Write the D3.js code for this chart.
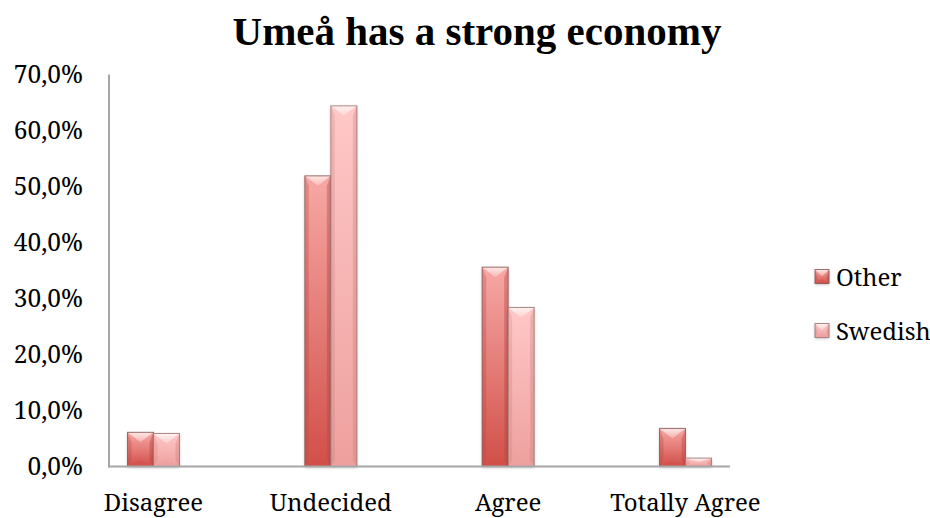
<!DOCTYPE html>
<html>
<head>
<meta charset="utf-8">
<script src="https://cdn.jsdelivr.net/npm/d3@7/dist/d3.min.js"></script>
<style>
  html, body { margin: 0; padding: 0; background: #ffffff; }
  svg { display: block; }
  text { fill: #000; }
  .title { font-family: "Liberation Serif", "Times New Roman", serif; }
  .lbl { font-family: "Noto Serif", "DejaVu Serif", serif; }
</style>
</head>
<body>
<svg id="chart" width="930" height="518"></svg>
<script>
// Survey answers, share of respondents per group
const categories = ["Disagree", "Undecided", "Agree", "Totally Agree"];
const seriesNames = ["Other", "Swedish"];
const otherValues = [6.1, 51.9, 35.6, 6.8];
const swedishValues = [5.9, 64.4, 28.4, 1.5];
const yTicks = [0, 10, 20, 30, 40, 50, 60, 70];
const titleText = "Umeå has a strong economy";

const svg = d3.select("#chart");

const plot = { left: 109, right: 730, top: 74.5, bottom: 466.5 };

const y = d3.scaleLinear().domain([0, 70]).range([plot.bottom, plot.top]);
const x = d3.scalePoint().domain(categories).range([153.5, 685.5]);
const barW = 26;
const xs = d3.scaleBand().domain(seriesNames).range([-barW, barW]).padding(0);

const palettes = {
  Other:   { top: "#f7a8a5", bottom: "#d24f49", stroke: "#8a5553", side: "#c04f4a", hi: "#ffe6e4" },
  Swedish: { top: "#ffc8c7", bottom: "#eda09e", stroke: "#9c706e", side: "#d98f8d", hi: "#fff2f1" }
};

const defs = svg.append("defs");
seriesNames.forEach(s => {
  const p = palettes[s];
  const g = defs.append("linearGradient").attr("id", "grad-" + s)
    .attr("x1", 0).attr("y1", 0).attr("x2", 0).attr("y2", 1);
  g.append("stop").attr("offset", "0%").attr("stop-color", p.top);
  g.append("stop").attr("offset", "100%").attr("stop-color", p.bottom);
  const gs = defs.append("linearGradient").attr("id", "side-" + s)
    .attr("x1", 0).attr("y1", 0).attr("x2", 0).attr("y2", 1);
  gs.append("stop").attr("offset", "0%").attr("stop-color", p.side).attr("stop-opacity", 0.55);
  gs.append("stop").attr("offset", "100%").attr("stop-color", p.side).attr("stop-opacity", 0.9);
  const gh = defs.append("linearGradient").attr("id", "hi-" + s)
    .attr("x1", 0).attr("y1", 0).attr("x2", 0).attr("y2", 1);
  gh.append("stop").attr("offset", "0%").attr("stop-color", p.hi).attr("stop-opacity", 1);
  gh.append("stop").attr("offset", "100%").attr("stop-color", p.hi).attr("stop-opacity", 0.3);
});
const shadow = defs.append("filter").attr("id", "shadow")
  .attr("x", "-30%").attr("y", "-10%").attr("width", "160%").attr("height", "130%");
shadow.append("feDropShadow").attr("dx", 0).attr("dy", 1).attr("stdDeviation", 1.5)
  .attr("flood-color", "#000").attr("flood-opacity", 0.28);

// Title
svg.append("text")
  .attr("class", "title")
  .attr("x", 477).attr("y", 45)
  .attr("text-anchor", "middle")
  .style("font-size", "41px").style("font-weight", "bold")
  .text(titleText);

// Y axis tick labels
svg.append("g").selectAll("text").data(yTicks).join("text")
  .attr("class", "lbl")
  .attr("x", 83)
  .attr("y", d => y(d))
  .attr("dy", "0.36em")
  .attr("text-anchor", "end")
  .style("font-size", "24.5px")
  .text(d => d3.format(".1f")(d).replace(".", ",") + "%");

// Bevelled column
function bevelBar(g, x0, y0, w, h, s) {
  const p = palettes[s];
  const bev = Math.min(w / 2, 10, h / 2);
  const side = Math.min(4, w / 6);
  g.append("rect").attr("x", x0).attr("y", y0).attr("width", w).attr("height", h)
    .attr("fill", `url(#grad-${s})`).attr("filter", "url(#shadow)");
  // side edges
  g.append("polygon")
    .attr("points", [[x0, y0], [x0 + side, y0 + bev], [x0 + side, y0 + h - bev * 0.6], [x0, y0 + h]].join(" "))
    .attr("fill", `url(#side-${s})`).attr("opacity", 0.6);
  g.append("polygon")
    .attr("points", [[x0 + w, y0], [x0 + w - side, y0 + bev], [x0 + w - side, y0 + h - bev * 0.6], [x0 + w, y0 + h]].join(" "))
    .attr("fill", `url(#side-${s})`).attr("opacity", 0.75);
  // top highlight
  g.append("polygon")
    .attr("points", [[x0, y0], [x0 + w, y0], [x0 + w / 2, y0 + bev]].join(" "))
    .attr("fill", `url(#hi-${s})`);
  // bottom facet
  g.append("polygon")
    .attr("points", [[x0, y0 + h], [x0 + w, y0 + h], [x0 + w / 2, y0 + h - bev * 0.6]].join(" "))
    .attr("fill", p.bottom).attr("opacity", 0.5);
  g.append("rect").attr("x", x0).attr("y", y0).attr("width", w).attr("height", h)
    .attr("fill", "none").attr("stroke", p.stroke).attr("stroke-width", 1).attr("stroke-opacity", 0.8);
}

const series = [
  { name: "Other", values: otherValues },
  { name: "Swedish", values: swedishValues }
];

const bars = svg.append("g");
series.forEach(sr => {
  sr.values.forEach((v, i) => {
    const cx = x(categories[i]) + xs(sr.name);
    bevelBar(bars.append("g"), cx, y(v), xs.bandwidth(), y(0) - y(v), sr.name);
  });
});

// Axes lines
svg.append("line")
  .attr("x1", plot.left).attr("x2", plot.left)
  .attr("y1", plot.top).attr("y2", plot.bottom + 1)
  .attr("stroke", "#a6a6a6").attr("stroke-width", 2);
svg.append("line")
  .attr("x1", plot.left - 1).attr("x2", plot.right)
  .attr("y1", plot.bottom).attr("y2", plot.bottom)
  .attr("stroke", "#a6a6a6").attr("stroke-width", 2);

// Category labels
svg.append("g").selectAll("text").data(categories).join("text")
  .attr("class", "lbl")
  .attr("x", d => x(d))
  .attr("y", 511)
  .attr("text-anchor", "middle")
  .style("font-size", "24px")
  .text(d => d);

// Legend
const legend = svg.append("g");
seriesNames.forEach((s, i) => {
  const ly = 276.5 + i * 54;
  bevelBar(legend.append("g"), 815, ly - 7, 14, 14, s);
  legend.append("text")
    .attr("class", "lbl")
    .attr("x", 836).attr("y", ly + 9)
    .style("font-size", "24px")
    .text(s);
});
</script>
</body>
</html>
